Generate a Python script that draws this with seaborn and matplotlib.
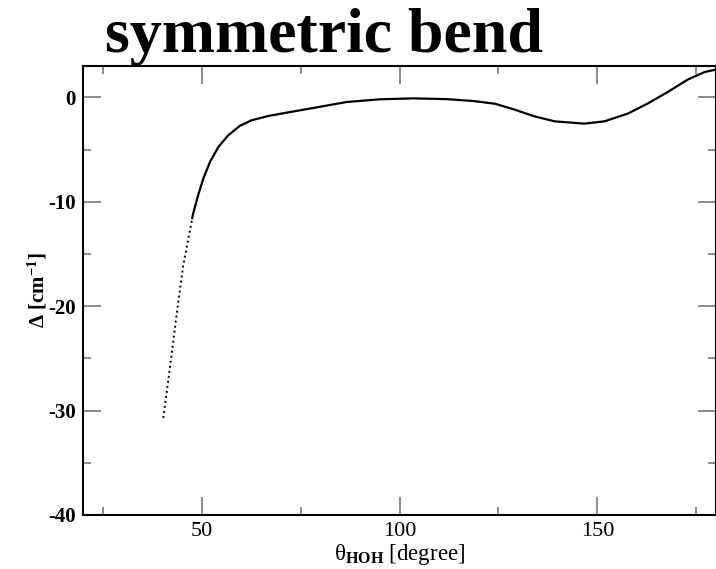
import matplotlib
matplotlib.use("Agg")
import matplotlib.pyplot as plt
import seaborn as sns
import pandas as pd
from matplotlib.ticker import MultipleLocator

# data
dotted_x = [40.3, 42.0, 43.7, 45.3, 47.6]
dotted_y = [-30.7, -25.8, -20.7, -16.2, -11.6]

solid_x = [47.6, 47.85, 49.1, 50.4, 52.1, 54.2, 56.7, 59.6, 62.6, 66.8, 71.0, 78.2,
           86.6, 95.0, 103.4, 111.8, 118.6, 124.2, 129.1, 134.1, 139.2, 146.7,
           151.8, 157.7, 162.7, 167.8, 172.8, 177.1, 180.0]
solid_y = [-11.6, -11.13, -9.38, -7.78, -6.19, -4.76, -3.64, -2.74, -2.2, -1.79, -1.5, -1.02,
           -0.45, -0.19, -0.1, -0.17, -0.35, -0.62, -1.18, -1.82, -2.30, -2.52,
           -2.30, -1.56, -0.6, 0.51, 1.69, 2.42, 2.66]

title_text = "symmetric bend"
xlabel_text = r"θ$_{\mathbf{HOH}}$ [degree]"
ylabel_text = r"Δ [cm$^{\mathbf{-1}}$]"

sns.set_theme(style="white")
plt.rcParams['font.family'] = ['Liberation Serif', 'DejaVu Serif']
plt.rcParams['mathtext.fontset'] = 'custom'
plt.rcParams['mathtext.rm'] = 'Liberation Serif'
plt.rcParams['mathtext.it'] = 'Liberation Serif:italic'
plt.rcParams['mathtext.bf'] = 'Liberation Serif:bold'
plt.rcParams['text.color'] = 'black'
plt.rcParams['axes.labelcolor'] = 'black'
plt.rcParams['xtick.color'] = 'black'
plt.rcParams['ytick.color'] = 'black'

fig = plt.figure(figsize=(7.16, 5.69), dpi=100)
ax = fig.add_axes([83/716, 1-515/569, (716-83)/716, (515-66)/569])

df_d = pd.DataFrame({"x": dotted_x, "y": dotted_y})
df_s = pd.DataFrame({"x": solid_x, "y": solid_y})
sns.lineplot(data=df_d, x="x", y="y", ax=ax, color="black", linestyle=(0, (1, 1.6)), linewidth=1.4)
sns.lineplot(data=df_s, x="x", y="y", ax=ax, color="black", linewidth=1.6)

ax.set_xlim(20, 180)
ax.set_ylim(-40, 3)
ax.xaxis.set_major_locator(MultipleLocator(50))
ax.xaxis.set_minor_locator(MultipleLocator(25))
ax.yaxis.set_major_locator(MultipleLocator(10))
ax.yaxis.set_minor_locator(MultipleLocator(5))

ax.tick_params(which='both', direction='in', top=True, right=True, bottom=True, left=True,
               color='#777777', width=1.2, labelcolor='black')
ax.tick_params(which='major', length=13, labelsize=15, pad=5)
ax.tick_params(which='minor', length=6)
ax.set_xticks([50, 100, 150])
ax.set_yticks([-40, -30, -20, -10, 0])
ax.set_yticklabels(["-40", "-30", "-20", "-10", "0"], fontweight='bold', fontsize=15)
ax.set_xticklabels(["50", "100", "150"], fontsize=16)

for sp in ax.spines.values():
    sp.set_color('black')
    sp.set_linewidth(1.5)

ax.set_xlabel(xlabel_text, fontsize=16.5, labelpad=1, color='black')
ax.set_ylabel(ylabel_text, fontsize=15, labelpad=-1, fontweight='bold', color='black')

fig.text(105/716, 1-52/569, title_text, fontsize=46, fontweight='bold', ha='left',
         va='baseline', color='black')

fig.savefig("out.png", dpi=100)
